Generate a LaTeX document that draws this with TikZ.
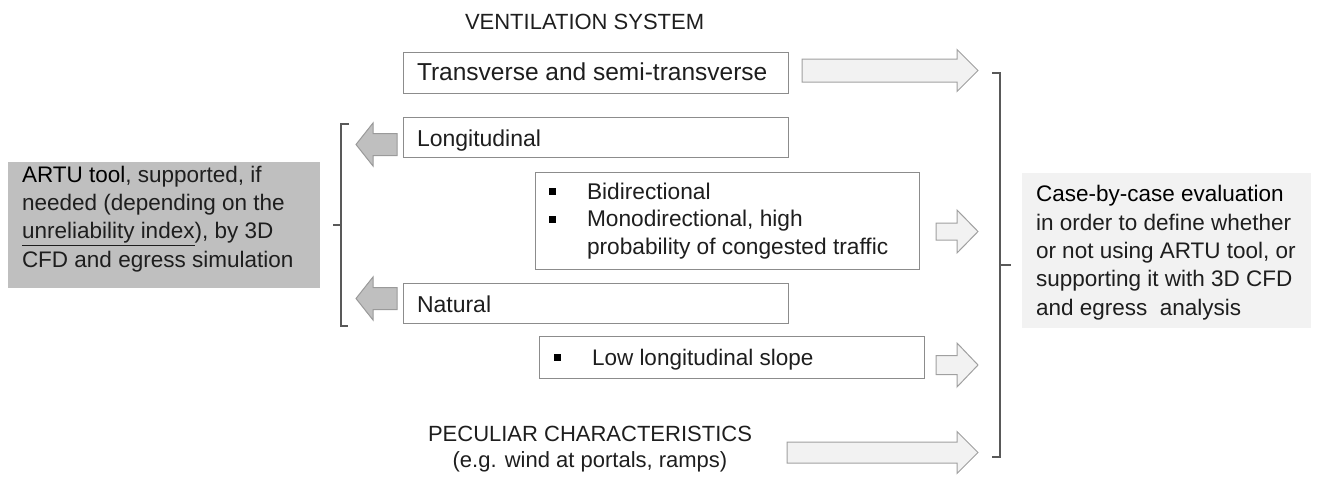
\documentclass[tikz,border=0pt]{standalone}
\usepackage{fontspec}
\setmainfont{Liberation Sans}
\definecolor{boxline}{HTML}{8C8C8C}
\definecolor{arrline}{HTML}{A0A0A0}
\definecolor{arrfill}{HTML}{F2F2F2}
\definecolor{darkarrfill}{HTML}{BFBFBF}
\definecolor{darkarrline}{HTML}{9A9A9A}
\definecolor{brk}{HTML}{595959}
\definecolor{txtc}{HTML}{1E1E1E}
\definecolor{leftfill}{HTML}{BFBFBF}
\definecolor{rightfill}{HTML}{F2F2F2}
\newcommand{\blockarrow}[7]{%
  \draw[#7] (#1,{#4-#5}) -- (#2,{#4-#5}) -- (#2,{#4-#6}) -- (#3,#4) -- (#2,{#4+#6}) -- (#2,{#4+#5}) -- (#1,{#4+#5}) -- cycle;}
\begin{document}
\begin{tikzpicture}[x=1pt,y=-1pt,
  every node/.style={inner sep=0pt,outer sep=0pt},
  box/.style={draw=boxline,line width=1pt,fill=white,anchor=north west},
  boxtxt/.style={font=\fontsize{23}{28}\selectfont,text=txtc,anchor=base west,align=left},
  sidetxt/.style={font=\fontsize{22.5}{28.3}\selectfont,text=txtc,anchor=base west,align=left},
  headtxt/.style={font=\fontsize{22}{26}\selectfont,text=txtc},
  bullet/.style={fill=black,minimum size=7pt,inner sep=0pt},
  lightarrow/.style={draw=arrline,fill=arrfill,line width=1pt,line join=miter},
  darkarrow/.style={draw=darkarrline,fill=darkarrfill,line width=1pt,line join=miter},
  bracket/.style={draw=brk,line width=1.5pt}]
\useasboundingbox (0,0) rectangle (1317,477);

% titles (multi-line nodes: base = last line's baseline)
\node[headtxt,anchor=base west] (vent) at (465,29) {VENTILATION SYSTEM};
\node[headtxt,anchor=base,align=center] (pec) at (590,467) {PECULIAR CHARACTERISTICS\\(e.g. wind at portals, ramps)};

% boxes
\node[box,minimum width=385pt,minimum height=41pt] (bT) at (403,52) {};
\node[boxtxt,font=\fontsize{24.5}{28}\selectfont] (tT) at (417,80) {Transverse and semi-transverse};
\node[box,minimum width=385pt,minimum height=40pt] (bL) at (403,117) {};
\node[boxtxt] (tL) at (417,146) {Longitudinal};
\node[box,minimum width=384pt,minimum height=97pt] (bB) at (535,172) {};
\node[boxtxt,font=\fontsize{22.7}{27.5}\selectfont] (tB) at (587,254) {Bidirectional\\Monodirectional, high\\probability of congested traffic};
\node[bullet] (u1) at (552,191) {};
\node[bullet] (u2) at (552,219) {};
\node[box,minimum width=385pt,minimum height=40pt] (bN) at (403,283) {};
\node[boxtxt] (tN) at (417,312) {Natural};
\node[box,minimum width=385pt,minimum height=42pt] (bS) at (539,336) {};
\node[boxtxt,font=\fontsize{22.5}{28}\selectfont] (tS) at (592,365) {Low longitudinal slope};
\node[bullet] (u3) at (557,357) {};

% side boxes
\fill[leftfill] (8,162) rectangle (320,288);
\node[sidetxt] (left) at (22,267) {{\color{black}ARTU tool}, supported, if\\needed (depending on the\\\underline{unreliability index}), by 3D\\CFD and egress simulation};
\fill[rightfill] (1022,173) rectangle (1311,328);
\node[sidetxt] (right) at (1036,315) {{\color{black}Case-by-case evaluation}\\in order to define whether\\or not using ARTU tool, or\\supporting it with 3D CFD\\and egress\ \ analysis};

% block arrows
\blockarrow{802}{957}{978}{70.5}{11.5}{21}{lightarrow}
\blockarrow{936}{957}{978}{231.5}{8.5}{21.5}{lightarrow}
\blockarrow{936}{957}{978}{365}{9.5}{22}{lightarrow}
\blockarrow{787}{957}{978}{452.5}{10.5}{21}{lightarrow}
\blockarrow{397}{373}{356}{144.5}{11}{21.5}{darkarrow}
\blockarrow{397}{373}{356}{298.5}{11}{21.5}{darkarrow}

% brackets
\draw[bracket] (349,124) -- (341,124) -- (341,326) -- (348,326);
\draw[bracket] (341,225) -- (333,225);
\draw[bracket] (992,73) -- (1000,73) -- (1000,457) -- (992,457);
\draw[bracket] (1000,265) -- (1011,265);
\end{tikzpicture}
\end{document}
